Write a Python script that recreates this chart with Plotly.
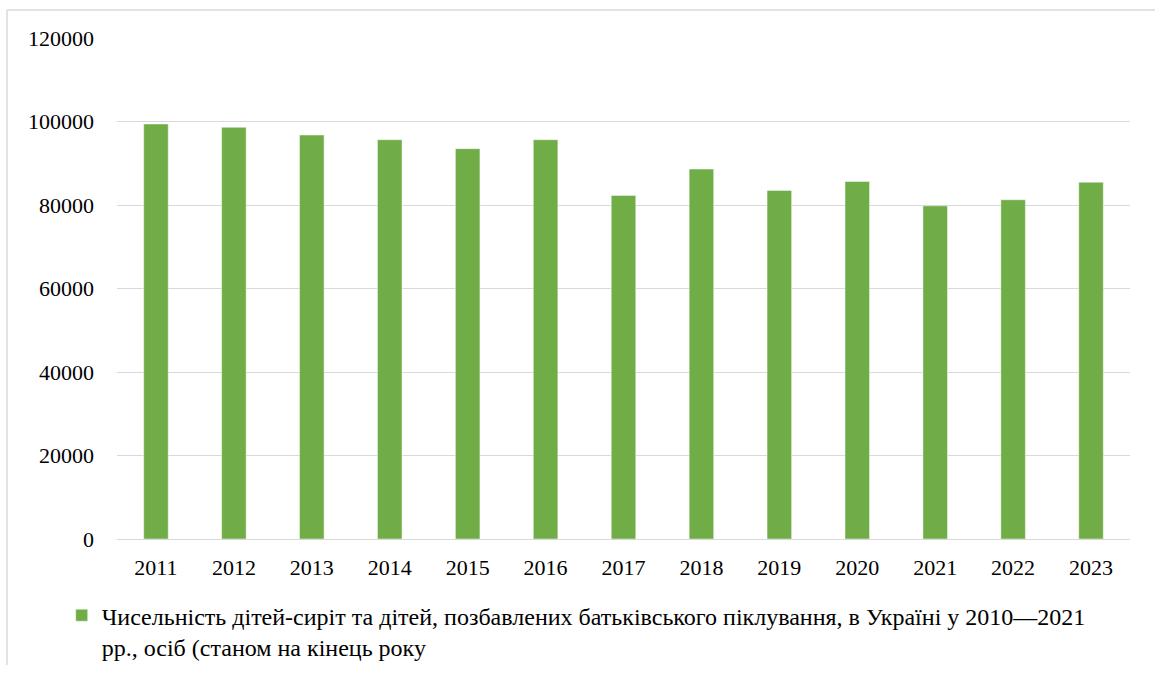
import plotly.graph_objects as go

years = ["2011", "2012", "2013", "2014", "2015", "2016", "2017",
         "2018", "2019", "2020", "2021", "2022", "2023"]
values = [99400, 98600, 96750, 95650, 93500, 95650, 82300,
          88600, 83500, 85650, 79800, 81250, 85450]
y_ticks = [0, 20000, 40000, 60000, 80000, 100000, 120000]
series_name = ("Чисельність дітей-сиріт та дітей, позбавлених батьківського піклування, "
               "в Україні у 2010—2021<br>рр., осіб (станом на кінець року")

FONT = "Liberation Serif"

fig = go.Figure()
fig.add_trace(go.Bar(
    x=years, y=values, name=series_name,
    marker=dict(color="#70AD47", line=dict(color="rgba(255,255,255,0.45)", width=1)),
    showlegend=True,
))

fig.update_layout(
    width=1155, height=675,
    margin=dict(l=117, r=25, t=38, b=136, autoexpand=False),
    paper_bgcolor="white", plot_bgcolor="white",
    font=dict(family=FONT, size=22, color="#000000"),
    bargap=0.685,
    showlegend=True,
    legend=dict(
        orientation="h", x=-0.0546, xanchor="left", y=-0.108, yanchor="top",
        font=dict(family=FONT, size=24, color="#000000"),
        valign="top", itemclick=False, bgcolor="rgba(0,0,0,0)",
    ),
    xaxis=dict(
        type="category", showgrid=False, showline=False, zeroline=False,
        ticks="", ticklabelstandoff=13,
        tickfont=dict(family=FONT, size=22, color="#000000"),
    ),
    yaxis=dict(
        range=[0, 120000], tickvals=y_ticks, ticktext=[str(v) for v in y_ticks],
        showgrid=True, gridcolor="#D9D9D9", gridwidth=1,
        zeroline=True, zerolinecolor="#D9D9D9", zerolinewidth=1,
        showline=False, ticks="", ticklabelstandoff=22,
        tickfont=dict(family=FONT, size=22, color="#000000"),
    ),
    shapes=[
        dict(type="line", xref="paper", yref="paper",
             x0=(7 - 117) / 1013, x1=(1155 - 117) / 1013,
             y0=(539 - 10) / 501, y1=(539 - 10) / 501,
             line=dict(color="#D9D9D9", width=1.5)),
        dict(type="line", xref="paper", yref="paper",
             x0=(7 - 117) / 1013, x1=(7 - 117) / 1013,
             y0=(539 - 10) / 501, y1=(539 - 665) / 501,
             line=dict(color="#D9D9D9", width=1.5)),
    ],
)

fig.write_html("out.html", config={"displayModeBar": False},
               post_script="document.body.style.margin='0';document.body.style.overflow='hidden';")
